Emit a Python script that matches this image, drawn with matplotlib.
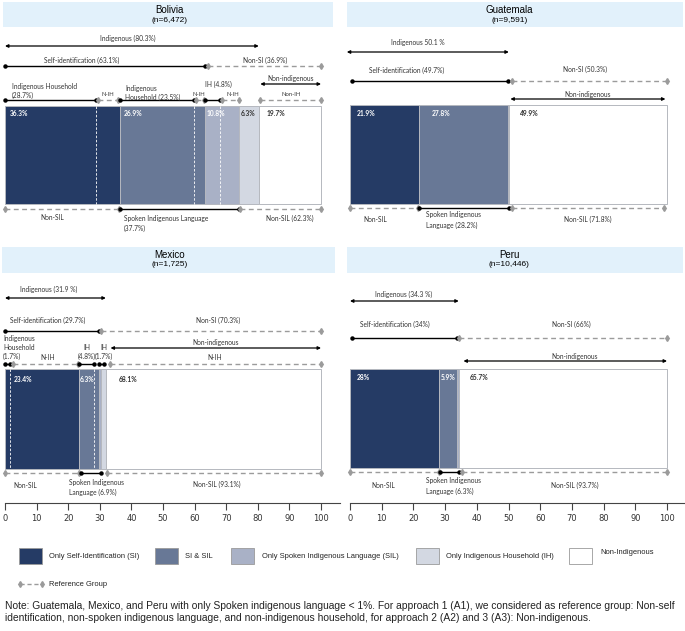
import numpy as np
import matplotlib.pyplot as plt
from matplotlib.patches import Rectangle

# shares (%): only SI, SI & SIL, only SIL, only IH, non-indigenous
bolivia = [36.3, 26.9, 10.8, 6.3, 19.7]
guatemala = [21.9, 27.8, 0.4, 0.0, 49.9]
mexico = [23.4, 6.3, 0.6, 1.6, 68.1]
peru = [28.0, 5.9, 0.4, 0.0, 65.7]

# indigenous household shares inside the SI / SIL segments
bolivia_ih = [28.7, 23.5, 4.8]
mexico_ih = [1.7, 4.8, 1.7]

bolivia_txt = ['36.3%', '26.9%', '10.8%', '6.3%', '19.7%']
guatemala_txt = ['21.9%', '27.8%', '', '', '49.9%']
mexico_txt = ['23.4%', '6.3%', '', '', '68.1%']
peru_txt = ['28%', '5.9%', '', '', '65.7%']

titles = ['Bolivia', 'Guatemala', 'Mexico', 'Peru']
sizes = ['(n=6,472)', '(n=9,591)', '(n=1,725)', '(n=10,446)']

legend_names = ['Only Self-Identification (SI)', 'SI & SIL', 'Only Spoken Indigenous Language (SIL)',
                'Only Indigenous Household (IH)', 'Non-Indigenous']
seg_colors = ['#253b65', '#687896', '#a9b1c6', '#d3d8e2', '#ffffff']
txt_colors = ['white', 'white', 'white', '#333333', '#333333']

FONT = 'Lato'
FS = 4.8
GRAY = '#9b9b9b'
NARROW = ['Liberation Sans Narrow', 'Liberation Sans']


def lab(ax, x, y, s, ha='center', step=9.0, fs=FS):
    for i, line in enumerate(s.split('\n')):
        ax.text(x, y + i * step, line, ha=ha, va='center', fontsize=fs,
                family=FONT, color='#333333')


def ref(ax, x0, x1, y):
    ax.plot([x0, x1], [y, y], ls=(0, (3.5, 2.5)), color=GRAY, lw=1.0, zorder=3)
    ax.plot([x0, x1], [y, y], ls='none', marker='d', ms=3, color=GRAY, zorder=3)


def span(ax, x0, x1, y):
    ax.plot([x0, x1], [y, y], '-', color='black', lw=1.0, marker='o', ms=2.2, zorder=3)


def arrow(ax, x0, x1, y):
    ax.annotate('', xy=(x1, y), xytext=(x0, y),
                arrowprops=dict(arrowstyle='<|-|>', color='black', lw=0.9,
                                mutation_scale=4.5, shrinkA=0, shrinkB=0))


def bars(ax, vals, yc, h, texts, offs, ty):
    vals = np.array(vals)
    left = np.concatenate([[0], np.cumsum(vals)[:-1]])
    ax.barh(yc, vals, left=left, height=h, color=seg_colors, edgecolor='#b5b8bf', lw=0.7, zorder=2)
    for i, t in enumerate(texts):
        if t:
            ax.text(left[i] + offs[i], ty, t, ha='left', va='center', fontsize=FS,
                    family=FONT, fontweight='bold', color=txt_colors[i], zorder=4)


def title_box(ax, x0, x1, y0, y1, xc, title, n):
    ax.add_patch(Rectangle((x0, y0), x1 - x0, y1 - y0, fc='#e2f1fb', ec='none', zorder=1))
    ax.text(xc, y0 + 8, title, ha='center', va='center', fontsize=7, family='Liberation Sans')
    ax.text(xc, y0 + 18, n, ha='center', va='center', fontsize=6, family='Liberation Sans')


fig = plt.figure(figsize=(6.85, 6.31), dpi=100)
W, H = 685, 631

axL = fig.add_axes([0, 1 - 500 / H, 342 / W, 500 / H])
axL.set_xlim(-5 / 3.16, 337 / 3.16)
axR = fig.add_axes([343 / W, 1 - 500 / H, 342 / W, 500 / H])
axR.set_xlim((343 - 350) / 3.17, (685 - 350) / 3.17)
for ax in (axL, axR):
    ax.set_ylim(500, 0)
    ax.axis('off')

# ---- Bolivia
cb = np.cumsum(bolivia)
title_box(axL, -0.6, 103.8, 2, 27, 52, titles[0], sizes[0])
lab(axL, 39, 38, 'Indigenous (80.3%)')
arrow(axL, 0, cb[3], 46)
lab(axL, 24.4, 60, 'Self-identification (63.1%)')
span(axL, 0, cb[1], 66)
lab(axL, 82.3, 60, 'Non-SI (36.9%)')
ref(axL, cb[1] + 1, 100, 66)
span(axL, 0, bolivia_ih[0], 100)
lab(axL, 2.2, 86, 'Indigenous Household\n(28.7%)', ha='left')
ref(axL, bolivia_ih[0] + 0.7, cb[0] - 0.5, 100)
lab(axL, 32.6, 94, 'N-IH', fs=4.2)
span(axL, cb[0], cb[0] + bolivia_ih[1], 100)
lab(axL, 38, 88, 'Indigenous\nHousehold (23.5%)', ha='left')
ref(axL, cb[0] + bolivia_ih[1] + 0.7, cb[1] - 0.3, 100)
lab(axL, 61.4, 94, 'N-IH', fs=4.2)
span(axL, cb[1], cb[1] + bolivia_ih[2], 100)
lab(axL, 67.4, 84, 'IH (4.8%)')
ref(axL, cb[1] + bolivia_ih[2] + 0.7, cb[2], 100)
lab(axL, 72, 94, 'N-IH', fs=4.2)
lab(axL, 90.5, 78, 'Non-indigenous')
arrow(axL, cb[3] + 0.5, 100, 84)
ref(axL, cb[3] + 0.3, 100, 100)
lab(axL, 90.5, 95, 'Non-IH', fs=4.2)
bars(axL, bolivia, 155, 98, bolivia_txt, [1.6, 1.3, 0.7, 0.7, 2.6], 114)
axL.vlines([bolivia_ih[0], cb[0] + bolivia_ih[1], cb[1] + bolivia_ih[2]], 106, 204,
           colors='white', linestyles=(0, (3, 2)), lw=0.6, zorder=3)
ref(axL, 0, cb[0] - 0.3, 209)
lab(axL, 14.9, 218, 'Non-SIL')
span(axL, cb[0], cb[2], 209)
lab(axL, 37.7, 218, 'Spoken Indigenous Language\n(37.7%)', ha='left', step=10.5)
ref(axL, cb[2] + 0.5, 100, 209)
lab(axL, 90.2, 218, 'Non-SIL (62.3%)')

# ---- Mexico
cm = np.cumsum(mexico)
title_box(axL, -0.95, 104.4, 247, 273, 52.2, titles[2], sizes[2])
lab(axL, 13.9, 289, 'Indigenous (31.9 %)')
arrow(axL, 0, cm[3], 298)
lab(axL, 13.6, 320, 'Self-identification (29.7%)')
span(axL, 0, cm[1], 331)
lab(axL, 67.4, 320, 'Non-SI (70.3%)')
ref(axL, cm[1] + 0.8, 100, 331)
lab(axL, -0.6, 339, 'Indigenous\nHousehold\n(1.7%)', ha='left', step=8.5)
span(axL, 0, mexico_ih[0], 364)
ref(axL, mexico_ih[0] + 0.7, cm[0] - 0.3, 364)
lab(axL, 13.6, 357, 'N-IH')
lab(axL, 25.9, 347.5, 'IH\n(4.8%)', step=8.5)
span(axL, cm[0], cm[0] + mexico_ih[1], 364)
lab(axL, 31.4, 347.5, 'IH\n(1.7%)', step=8.5)
span(axL, cm[1], cm[1] + mexico_ih[2], 364)
lab(axL, 66.5, 343, 'Non-indigenous')
arrow(axL, cm[3] + 1.5, 100, 348)
ref(axL, cm[3] + 1.3, 100, 364)
lab(axL, 66.5, 357, 'N-IH')
bars(axL, mexico, 419, 100, mexico_txt, [2.8, 0.3, 0, 0, 4.0], 380)
axL.vlines([mexico_ih[0], cm[0] + mexico_ih[1]], 369, 469,
           colors='white', linestyles=(0, (3, 2)), lw=0.6, zorder=3)
ref(axL, 0, cm[0], 473)
lab(axL, 6.3, 485, 'Non-SIL')
span(axL, cm[0] + 0.5, cm[2], 473)
lab(axL, 20.3, 482, 'Spoken Indigenous\nLanguage (6.9%)', ha='left', step=10.5)
ref(axL, cm[2] + 2, 100, 473)
lab(axL, 67, 484, 'Non-SIL (93.1%)')

# ---- Guatemala
cg = np.cumsum(guatemala)
title_box(axR, -0.95, 105, 2, 27, 50.2, titles[1], sizes[1])
lab(axR, 21.5, 43, 'Indigenous 50.1 %')
arrow(axR, -1, cg[3], 52)
lab(axR, 18, 70, 'Self-identification (49.7%)')
span(axR, 0.6, cg[1], 81)
lab(axR, 74, 69, 'Non-SI (50.3%)')
ref(axR, cg[1] + 1.5, 100, 81)
lab(axR, 75, 94, 'Non-indigenous')
arrow(axR, cg[3] + 0.5, 99.5, 99)
bars(axR, guatemala, 154.5, 99, guatemala_txt, [2.2, 4.0, 0, 0, 3.5], 114)
ref(axR, 0, cg[0] - 0.3, 208)
lab(axR, 7.9, 219, 'Non-SIL')
span(axR, cg[0], cg[2], 208)
lab(axR, 24, 215, 'Spoken Indigenous\nLanguage (28.2%)', ha='left', step=10)
ref(axR, cg[2] + 1, 99, 208)
lab(axR, 75, 219, 'Non-SIL (71.8%)')

# ---- Peru
cp = np.cumsum(peru)
title_box(axR, -0.95, 105, 247, 273, 50.2, titles[3], sizes[3])
lab(axR, 17, 294, 'Indigenous (34.3 %)')
arrow(axR, 0, cp[3], 301)
lab(axR, 14.2, 324, 'Self-identification (34%)')
span(axR, 0.6, cp[1], 338)
lab(axR, 69.7, 324, 'Non-SI (66%)')
ref(axR, cp[3], 100, 338)
lab(axR, 71, 356, 'Non-indigenous')
arrow(axR, cp[3] + 1.5, 100, 361)
bars(axR, peru, 418.5, 99, peru_txt, [2.2, 0.7, 0, 0, 3.6], 378)
ref(axR, 0, cp[0], 472)
lab(axR, 10.4, 485, 'Non-SIL')
span(axR, cp[0] + 0.5, cp[2], 472)
lab(axR, 24, 481, 'Spoken Indigenous\nLanguage (6.3%)', ha='left', step=10.5)
ref(axR, cp[2] + 1, 100, 472)
lab(axR, 71, 485, 'Non-SIL (93.7%)')

# ---- x axes under each column
for left, xl in ((0, axL.get_xlim()), (343 / W, axR.get_xlim())):
    tx = fig.add_axes([left, 1 - 503 / H, 342 / W, 0.01])
    tx.set_xlim(xl)
    for s in ('top', 'left', 'right'):
        tx.spines[s].set_visible(False)
    tx.spines['bottom'].set_bounds(0, 106)
    tx.spines['bottom'].set_color('#444444')
    tx.spines['bottom'].set_linewidth(0.8)
    tx.set_yticks([])
    tx.set_xticks(np.arange(0, 101, 10))
    tx.tick_params(axis='x', length=5, width=0.8, color='#444444', labelsize=6, pad=3,
                   labelcolor='#333333')
    tx.patch.set_visible(False)

# ---- legend and note
ov = fig.add_axes([0, 0, 1, 1])
ov.set_xlim(0, W)
ov.set_ylim(H, 0)
ov.axis('off')
for px, tx_, c, name in zip([19, 155, 231, 416, 569], [49, 185, 262, 446, 600], seg_colors, legend_names):
    ov.add_patch(Rectangle((px, 548), 23, 16, fc=c, ec='#9a9a9a', lw=0.6))
    ov.text(tx_, 556 if name != 'Non-Indigenous' else 552, name, ha='left', va='center',
            fontsize=5.4, family=NARROW, color='#222222')
ov.plot([20, 42], [584, 584], ls=(0, (3, 2)), color=GRAY, lw=1.0)
ov.plot([20, 42], [584, 584], ls='none', marker='d', ms=3, color=GRAY)
ov.text(49, 584, 'Reference Group', ha='left', va='center', fontsize=5.4,
        family=NARROW, color='#222222')
ov.text(5, 606, 'Note: Guatemala, Mexico, and Peru with only Spoken indigenous language < 1%. '
        'For approach 1 (A1), we considered as reference group: Non-self', ha='left', va='center',
        fontsize=7.38, family='Liberation Sans', color='#222222')
ov.text(5, 618, 'identification, non-spoken indigenous language, and non-indigenous household, '
        'for approach 2 (A2) and 3 (A3): Non-indigenous.', ha='left', va='center',
        fontsize=7.38, family='Liberation Sans', color='#222222')

fig.savefig('out.png', dpi=100)
